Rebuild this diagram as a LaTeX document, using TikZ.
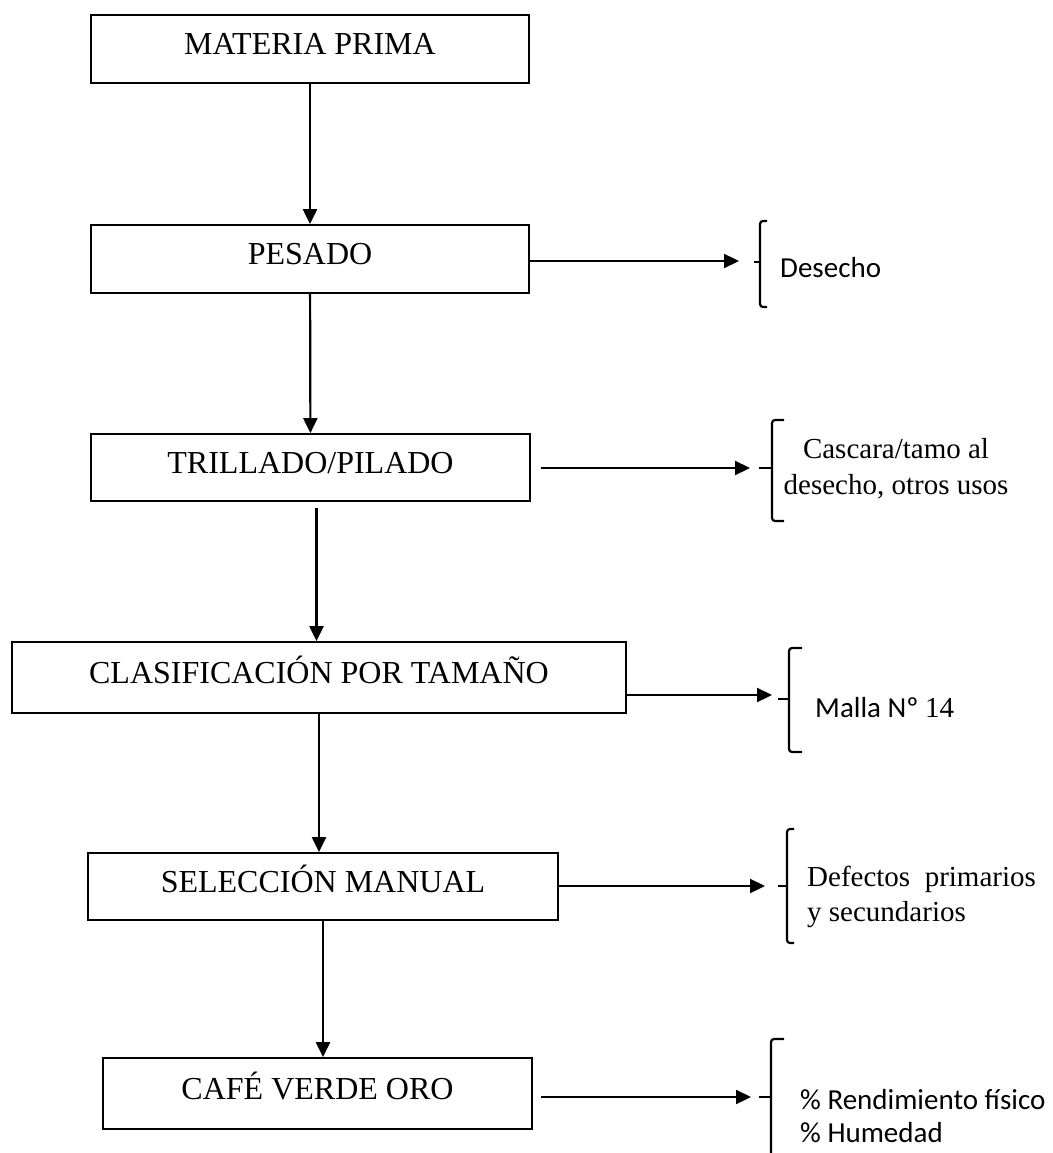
\documentclass[tikz,border=0pt]{standalone}
\usepackage{fontspec}
\setmainfont{Liberation Serif}
\newfontfamily\calibri{Carlito}
\usetikzlibrary{arrows.meta,calc}

\begin{document}
\begin{tikzpicture}[x=1pt, y=-1pt,
  etapa/.style={draw, line width=1.8pt, inner sep=0pt,
    font=\fontsize{32}{38}\selectfont, text height=22pt, text depth=11pt},
  flecha/.style={-{Triangle[length=15pt,width=14pt]}, line width=2.2pt},
  llave/.style={line width=2.2pt, rounded corners=3pt},
  nota/.style={inner sep=0pt, font=\fontsize{29}{35}\selectfont}]
\useasboundingbox (0,0) rectangle (1052,1153);

\node[etapa, minimum width=438pt, minimum height=68pt] (mp) at (310,49) {MATERIA PRIMA};
\node[etapa, minimum width=438pt, minimum height=68pt] (pes) at (310,259) {PESADO};
\node[etapa, minimum width=439pt, minimum height=67pt] (tri) at (310.5,467.5) {TRILLADO/PILADO};
\node[etapa, minimum width=614pt, minimum height=71pt] (cla) at (319,677.5) {CLASIFICACIÓN POR TAMAÑO};
\node[etapa, minimum width=470pt, minimum height=67pt] (sel) at (323,886.5) {SELECCIÓN MANUAL};
\node[etapa, minimum width=429pt, minimum height=71pt] (caf) at (317.5,1093.5) {CAFÉ VERDE ORO};

\draw[flecha] (mp) -- (pes);
\draw[flecha] (pes) -- (tri);
\draw[flecha] (tri.south) ++(6,6) coordinate (t3) -- (t3 |- cla.north);
\draw[flecha] (cla) -- (cla.south |- sel.north);
\draw[flecha] (sel) -- (sel.south |- caf.north);

% salidas laterales
\coordinate (d1) at (739,261);
\coordinate (d2) at (750,468);
\coordinate (d3) at (772,695);
\coordinate (d4) at (765,886);
\coordinate (d5) at (751,1097);
\draw[flecha] (pes.east |- d1) -- (d1);
\draw[flecha] (tri.east |- d2) ++(10,0) -- (d2);
\draw[flecha] (cla.east |- d3) -- (d3);
\draw[flecha] (sel.east |- d4) -- (d4);
\draw[flecha] (caf.east |- d5) ++(8,0) -- (d5);

\draw[llave] (767,221) -- (760,221) -- (760,307) -- (767,307);
\draw[line width=2.2pt] (760,262) -- (754,262);
\draw[llave] (784,420) -- (772,420) -- (772,521) -- (784,521);
\draw[line width=2.2pt] (772,468) -- (759,468);
\draw[llave] (802,648) -- (789,648) -- (789,752) -- (802,752);
\draw[line width=2.2pt] (789,699) -- (778,699);
\draw[llave] (794,829) -- (787,829) -- (787,943) -- (794,943);
\draw[line width=2.2pt] (787,886) -- (778,886);
\draw[llave] (784,1039) -- (771,1039) -- (771,1160);
\draw[line width=2.2pt] (771,1097) -- (759,1097);

\node[nota, anchor=base west, font=\calibri\fontsize{29}{35}\selectfont] (n1) at (780,277) {Desecho};
\node[nota, align=center, font=\fontsize{29}{36}\selectfont] (n2) at (896,469) {Cascara/tamo al\\desecho, otros usos};
\node[nota, anchor=base west] (n3) at (815,717) {{\calibri Malla Nº }14};
\node[nota, align=left, anchor=north west, font=\fontsize{29}{35}\selectfont] (n4) at (807,866) {Defectos\ \ primarios\\y secundarios};
\node[nota, align=left, anchor=north west, font=\calibri\fontsize{29}{33}\selectfont] (n5) at (800,1089) {\% Rendimiento físico\\\% Humedad};

\end{tikzpicture}
\end{document}
